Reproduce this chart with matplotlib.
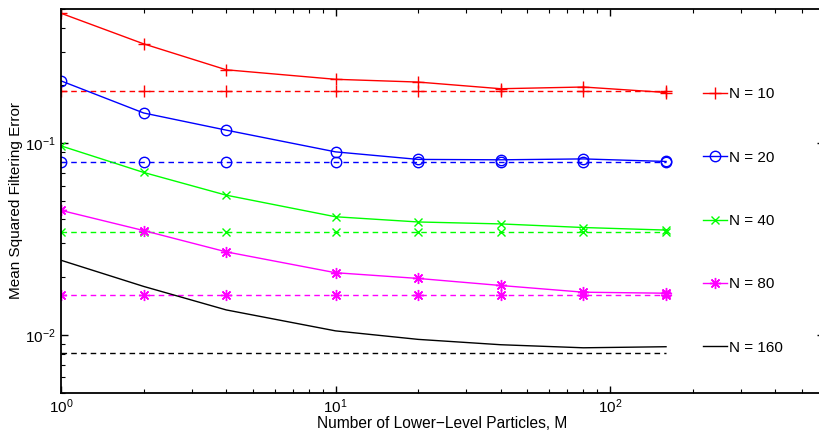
import matplotlib.pyplot as plt
import numpy as np

plt.rcParams['font.family'] = ['Liberation Sans', 'DejaVu Sans']
plt.rcParams['mathtext.fontset'] = 'custom'
plt.rcParams['mathtext.rm'] = 'Liberation Sans'
plt.rcParams['mathtext.it'] = 'Liberation Sans:italic'

# Number of lower-level particles
M = [1, 2, 4, 10, 20, 40, 80, 160]
N_labels = ['N = 10', 'N = 20', 'N = 40', 'N = 80', 'N = 160']

# solid curves: error vs M for each N
mse_n10 = [0.475, 0.329, 0.241, 0.215, 0.208, 0.192, 0.196, 0.1835]
mse_n20 = [0.211, 0.1435, 0.1168, 0.0900, 0.0822, 0.0818, 0.0827, 0.0802]
mse_n40 = [0.0967, 0.0703, 0.0535, 0.0413, 0.0388, 0.0379, 0.0363, 0.0352]
mse_n80 = [0.0446, 0.0350, 0.0271, 0.0211, 0.0197, 0.0181, 0.0167, 0.0165]
mse_n160 = [0.0245, 0.0179, 0.0135, 0.0105, 0.00948, 0.00889, 0.00857, 0.00868]

# dashed reference levels
ref_levels = [0.1865, 0.0796, 0.0346, 0.0162, 0.00803]

series = [mse_n10, mse_n20, mse_n40, mse_n80, mse_n160]
colors = ['#ff0000', '#0000ff', '#00ff00', '#ff00ff', '#000000']
markers = ['+', 'o', 'x', (8, 2, 0), None]
msizes = [9, 7.5, 6, 8, 0]

fig = plt.figure(figsize=(8.2, 4.34), dpi=100)
ax = fig.add_axes([0.0744, 0.0952, 0.930, 0.8841])

handles = []
for vals, ref, c, mk, ms, lab in zip(series, ref_levels, colors, markers, msizes, N_labels):
    ax.plot(M, [ref] * len(M), color=c, linestyle='--', dashes=(4, 3), lw=1.0,
            marker=mk, markersize=ms, markerfacecolor='none', markeredgewidth=1.0)
    h, = ax.plot(M, vals, color=c, linestyle='-', lw=1.0, label=lab,
                 marker=mk, markersize=ms, markerfacecolor='none', markeredgewidth=1.0)
    handles.append(h)

ax.set_xscale('log')
ax.set_yscale('log')
ax.set_xlim(1, 600)
ax.set_ylim(0.005, 0.5)

ax.set_xlabel('Number of Lower\u2212Level Particles, M', fontsize=11.2, labelpad=0)
ax.set_ylabel('Mean Squared Filtering Error', fontsize=11, labelpad=2)

ax.tick_params(which='both', direction='in', top=True, right=True, labelsize=11)
ax.tick_params(which='major', length=5, width=1)
ax.tick_params(which='minor', length=3, width=0.8)
for sp in ax.spines.values():
    sp.set_linewidth(1.3)

ax.legend(handles=handles, loc='center left', bbox_to_anchor=(0.8419, 0.4475),
          frameon=False, fontsize=11, labelspacing=3.23, handlelength=1.57,
          handletextpad=0.15, borderpad=0, borderaxespad=0)

fig.savefig('out.png', dpi=100)
